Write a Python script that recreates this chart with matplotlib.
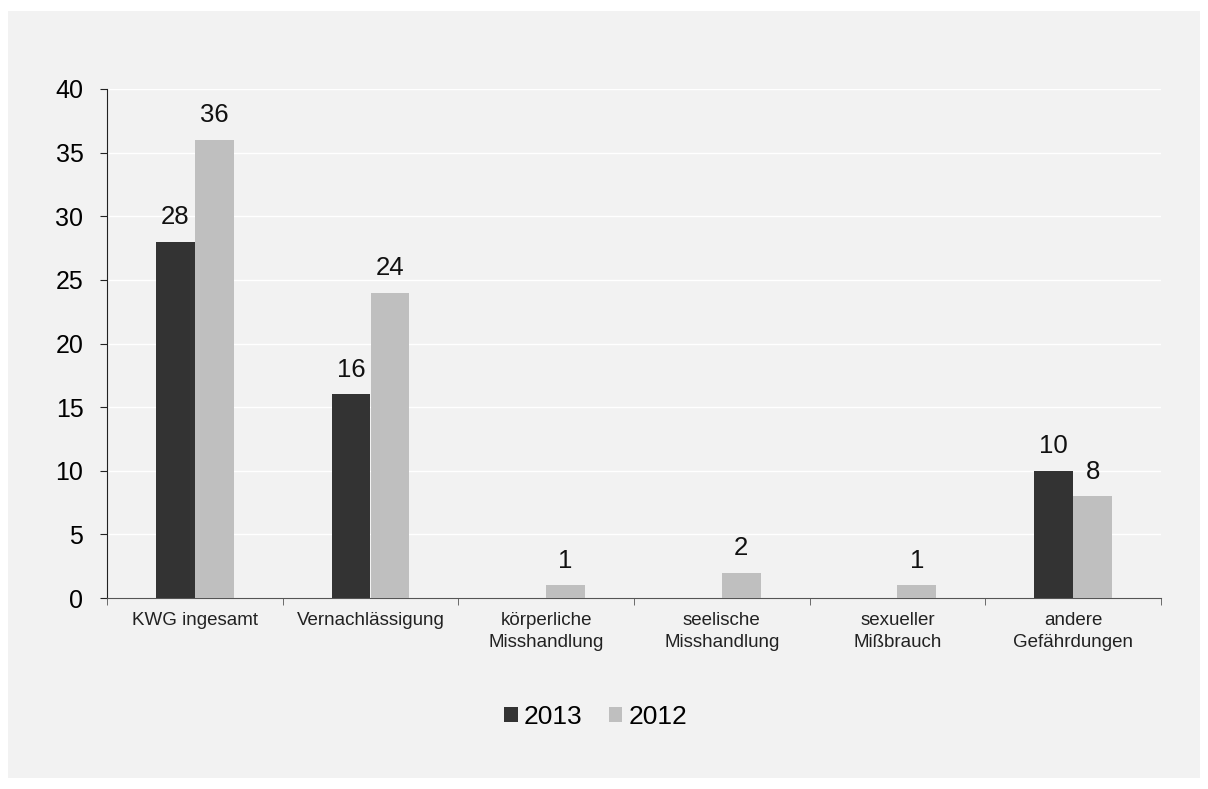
import numpy as np
import matplotlib.pyplot as plt
from matplotlib.patches import Rectangle

plt.rcParams['font.family'] = ['Liberation Sans', 'DejaVu Sans']

kategorien = ['KWG ingesamt', 'Vernachlässigung', 'körperliche\nMisshandlung',
              'seelische\nMisshandlung', 'sexueller\nMißbrauch', 'andere\nGefährdungen']
werte_2013 = [28, 16, 0, 0, 0, 10]
werte_2012 = [36, 24, 1, 2, 1, 8]
jahre = ['2013', '2012']
farben = ['#333333', '#bfbfbf']
hg = '#f2f2f2'

fig = plt.figure(figsize=(12.08, 7.89), dpi=100, facecolor='white')
# grauer Hintergrund
fig.patches.append(Rectangle((8 / 1208, 1 - 778 / 789), 1192 / 1208, 767 / 789,
                             transform=fig.transFigure, facecolor=hg, edgecolor='none', zorder=-10))

ax = fig.add_axes([107 / 1208, 1 - 598 / 789, 1054 / 1208, 509 / 789])
ax.set_zorder(1)
ax.set_facecolor(hg)

x = np.arange(len(kategorien))
b = 0.222
for i, (werte, jahr) in enumerate(zip([werte_2013, werte_2012], jahre)):
    pos = x + (i - 0.5) * b
    ax.bar(pos, werte, width=b, color=farben[i], label=jahr, zorder=3)
    for p, w in zip(pos, werte):
        if w > 0:
            ax.annotate(str(w), (p, w), xytext=(0, 9), textcoords='offset points',
                        ha='center', va='bottom', fontsize=18.5, color='#111111')

ax.set_xlim(-0.5, len(kategorien) - 0.5)
ax.set_ylim(0, 40)
ax.set_yticks(range(0, 41, 5))
ax.grid(axis='y', color='white', linewidth=1, zorder=0)
ax.set_axisbelow(True)

ax.set_xticks(x)
ax.set_xticklabels(kategorien, fontsize=13.5, color='#222222', linespacing=1.4)
ax.set_xticks(np.arange(-0.5, len(kategorien)), minor=True)
ax.tick_params(axis='x', which='major', length=0, pad=10)
ax.tick_params(axis='x', which='minor', length=5, color='#555555')
ax.tick_params(axis='y', labelsize=18, length=5, pad=12, color='#222222')

for s in ['top', 'right']:
    ax.spines[s].set_visible(False)
ax.spines['left'].set_color('#222222')
ax.spines['bottom'].set_color('#555555')

fig.legend(loc='center', bbox_to_anchor=(596 / 1208, 1 - 717 / 789), ncol=2,
           frameon=False, fontsize=19, handlelength=0.5, handleheight=0.5,
           handletextpad=0.25, columnspacing=1.0)

fig.savefig('out.png', dpi=100, facecolor='white')
